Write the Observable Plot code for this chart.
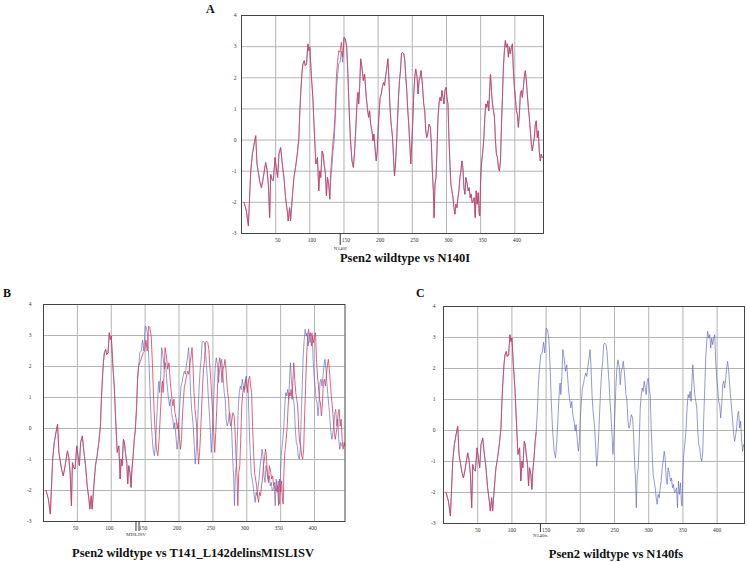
<!DOCTYPE html>
<html><head><meta charset="utf-8">
<script src="https://cdn.jsdelivr.net/npm/d3@7"></script>
<script src="https://cdn.jsdelivr.net/npm/@observablehq/plot@0.6"></script>
<style>
body{margin:0;background:#fff;}
#wrap{position:relative;width:747px;height:562px;overflow:hidden;font-family:"Liberation Serif",serif;}
#wrap svg{position:absolute;}
</style></head><body><div id="wrap"></div>
<script>
// ---- data (hydrophobicity profile, residue vs score) ----
const wtResidue = [3.8,7.2,10.1,13.5,15.9,18.4,20.8,22.7,24.7,26.6,29.1,31.5,33.4,35.4,37.3,39.3,41.2,42.7,44.6,46.6,49.0,50.9,52.9,54.8,57.3,59.7,62.1,64.5,67.0,68.4,70.4,71.8,74.3,76.7,79.1,81.6,84.0,85.4,86.9,88.4,89.8,91.8,93.2,95.2,97.1,98.6,100.0,102.4,104.4,106.3,108.8,111.2,113.1,114.6,116.0,118.0,119.5,120.9,122.9,124.3,125.8,127.7,129.2,130.6,132.6,134.0,135.5,137.4,138.9,140.3,142.3,144.2,146.2,148.1,150.1,152.0,154.0,155.9,157.4,159.3,161.7,163.7,165.6,167.6,169.5,170.5,171.5,172.9,174.4,176.3,178.3,180.2,181.2,182.6,184.1,186.0,187.5,189.0,190.9,192.4,193.8,195.8,197.2,198.7,200.1,201.6,203.0,204.5,206.0,207.9,209.4,210.8,212.8,214.2,215.7,217.1,218.6,219.6,221.0,222.5,223.9,225.4,226.9,228.3,229.8,231.2,232.7,234.1,235.6,237.5,239.0,240.5,241.9,243.4,244.8,246.3,247.7,249.2,250.7,252.1,253.6,255.0,257.0,258.4,259.9,261.4,262.8,264.3,265.7,266.7,268.2,269.6,271.1,272.5,274.5,276.4,277.9,279.3,280.8,281.8,283.2,284.7,286.1,287.6,289.1,290.5,292.0,293.4,294.9,296.3,297.8,299.3,300.7,302.2,303.6,305.1,306.5,308.0,309.5,310.9,312.4,313.8,315.3,316.8,318.2,319.7,321.1,322.6,324.0,325.5,327.0,328.4,330.4,331.8,333.3,334.7,336.2,337.6,339.1,340.6,342.0,343.5,344.9,346.4,347.9,348.8,349.8,350.8,351.7,353.2,354.7,356.1,357.6,359.0,360.5,361.9,363.4,364.4,365.8,367.3,368.8,370.2,371.7,373.1,374.6,376.0,377.5,379.0,380.4,381.9,383.3,384.8,386.2,387.7,389.2,390.6,392.1,393.5,395.0,396.5,397.9,399.4,400.8,402.3,403.7,405.2,406.7,408.1,409.6,411.0,412.5,413.9,415.4,416.9,418.3,419.8,421.2,422.7,424.2,425.6,427.1,428.5,430.0,431.4,432.9,434.4,435.8,437.3,438.7,440.2];
const wtHydro = [-2.0,-2.28,-2.76,-1.0,-0.45,-0.13,0.14,-0.77,-1.04,-1.31,-1.53,-1.26,-0.99,-0.72,-0.94,-1.42,-2.49,-1.10,-1.26,-1.31,-0.56,-0.88,-1.2,-0.45,-0.24,-0.77,-1.2,-1.85,-2.28,-2.6,-2.17,-2.6,-1.85,-1.2,-0.88,-0.45,0.08,0.94,1.59,2.12,2.44,2.55,2.39,2.44,3.09,2.87,2.98,2.02,1.37,0.41,-0.77,-0.56,-1.63,-0.99,-1.2,-0.35,-0.45,-0.77,-1.1,-1.79,-1.2,-1.42,-1.9,-1.3,-0.8,-0.35,-0.05,0.7,1.6,2.0,2.45,2.5,2.85,2.5,3.3,3.25,2.98,2.02,1.05,0.08,-0.67,-0.88,-0.35,0.51,1.37,1.53,1.16,1.69,2.61,2.34,1.91,2.12,1.80,1.37,1.05,0.73,0.94,0.51,0.30,-0.02,0.19,-0.35,-0.67,-0.35,0.41,0.94,1.37,1.48,1.69,1.85,1.75,2.02,2.34,2.61,2.02,1.16,0.62,0.41,0.08,-0.56,-1.15,-0.77,-0.13,0.62,1.37,1.91,2.23,2.77,2.82,2.77,2.55,2.02,1.59,0.94,0.51,-0.13,-0.77,-0.13,0.62,1.48,2.02,2.28,2.02,1.48,1.91,2.02,2.23,1.91,1.48,1.16,0.94,0.30,0.08,0.19,0.51,0.41,-0.13,-0.99,-1.63,-2.49,-1.42,-1.2,-0.35,0.73,1.16,1.37,1.26,1.59,1.37,1.16,1.59,1.69,1.37,1.16,0.08,-0.77,-1.42,-1.63,-1.85,-2.17,-2.38,-2.06,-2.17,-1.85,-1.63,-1.2,-0.99,-0.67,-0.88,-1.53,-1.74,-1.2,-1.42,-1.63,-1.53,-1.85,-1.74,-2.01,-1.95,-1.85,-2.49,-1.63,-2.06,-1.69,-2.38,-2.44,-1.42,-0.88,-0.67,-0.35,0.08,0.73,1.16,1.05,1.26,0.94,1.69,2.12,1.59,1.16,0.94,0.73,-0.02,-0.45,-0.56,-0.88,-0.99,-0.67,0.41,1.37,2.34,2.87,3.20,2.98,3.09,2.66,2.98,2.77,2.98,3.09,2.23,1.69,1.37,0.94,0.83,0.41,0.83,1.48,1.59,1.37,1.69,2.02,2.23,1.91,1.48,1.05,0.73,0.30,-0.13,-0.35,-0.13,0.08,0.51,0.62,0.08,0.30,-0.35,-0.67,-0.45,-0.56];

// N140I mutant: differs from wild type only in this stretch
const n140iResidue = [130.6,132.6,134.0,135.5,137.4,138.9,140.3,142.3,144.2,146.2,148.1];
const n140iHydro   = [-0.99,-0.45,-0.02,0.30,1.05,2.02,2.44,2.87,2.82,3.14,2.66];
// T141_L142delinsMISLISV: net 5-residue insertion after residue 141
const insertionSite = 141;
const insertionLength = 5;
// N140fs: truncated profile ends at this residue
const frameshiftEnd = 135.5;

const xTicks = [50,100,150,200,250,300,350,400];
const yTicks = [-3,-2,-1,0,1,2,3,4];
const panelLetters = ["A","B","C"];
const panelTitles = ["Psen2 wildtype vs N140I","Psen2 wildtype vs T141_L142delinsMISLISV","Psen2 wildtype vs N140fs"];
const markerLabels = ["N140I","MISLISV","N140fs"];
const markerPositions = [[144.5],[136.5,141],[141.7]];

// ---- build series ----
const wt = wtResidue.map((r,i)=>({r, v: wtHydro[i]}));
const mutA = wt.map(d => {
  const k = n140iResidue.indexOf(d.r);
  return k >= 0 ? {r: d.r, v: n140iHydro[k]} : d;
});
const mutB = wt.map(d => ({r: d.r < insertionSite ? d.r : d.r + insertionLength, v: d.v}));
const mutC = wt.filter(d => d.r <= frameshiftEnd);

const RED = "#d63c5c", BLUE = "#5a63b8";
const wrap = document.getElementById("wrap");

const panels = [
  {left:200, top:0, width:360, height:275, ml:41, mr:17, mt:15, mb:42, domain:[0,442], mut:mutA, yPad:5, dx:2, mLen:12},
  {left:0, top:280, width:360, height:262, ml:43, mr:15.5, mt:24, mb:21, domain:[0,445], mut:mutB, yPad:12, dx:-2, mLen:10},
  {left:400, top:280, width:347, height:262, ml:43, mr:3, mt:26, mb:19, domain:[0,440], mut:mutC, yPad:8, dx:0, mLen:9}
];

panels.forEach((p, i) => {
  const svg = Plot.plot({
    width: p.width, height: p.height,
    marginLeft: p.ml, marginRight: p.mr, marginTop: p.mt, marginBottom: p.mb,
    x: {domain: p.domain, axis: null, label: null},
    y: {domain: [-3, 4], axis: null, label: null},
    style: {fontFamily: "Liberation Serif, serif", background: "transparent", overflow: "visible"},
    marks: [
      Plot.gridX(xTicks, {stroke: "#b4b4b4", strokeOpacity: 1}),
      Plot.gridY(yTicks, {stroke: "#b4b4b4", strokeOpacity: 1}),
      Plot.line(wt, {x: "r", y: "v", stroke: BLUE, strokeWidth: 0.65}),
      Plot.line(p.mut, {x: "r", y: "v", stroke: RED, strokeWidth: 0.8}),
      Plot.frame({stroke: "#444", strokeWidth: 1}),
      Plot.axisX(xTicks, {label: null, tickSize: 0, tickPadding: 5, fontSize: 5.5, fill: "#333", tickFormat: d => String(d), dx: p.dx}),
      Plot.axisY(yTicks, {label: null, tickSize: 0, tickPadding: p.yPad, fontSize: 5.5, fill: "#333", tickFormat: d => String(d)}),
      Plot.axisX(markerPositions[i], {label: null, tickSize: p.mLen, tickPadding: 1, fontSize: 5, fill: "#333", stroke: "#333",
        tickFormat: (d, k) => k === 0 ? markerLabels[i] : ""})
    ]
  });
  svg.style.left = p.left + "px";
  svg.style.top = p.top + "px";
  wrap.appendChild(svg);
});

// ---- titles and panel letters ----
const overlay = d3.select(wrap).append("svg")
  .attr("width", 747).attr("height", 562)
  .style("left", "0px").style("top", "0px").style("pointer-events", "none");
const titlePos = [[405, 261.5], [193, 556.7], [616, 557.5]];
const letterPos = [[206, 12.5], [3, 296.5], [416, 297]];
overlay.selectAll("text.title").data(panelTitles).join("text")
  .attr("class", "title")
  .attr("x", (d, i) => titlePos[i][0]).attr("y", (d, i) => titlePos[i][1])
  .attr("text-anchor", "middle")
  .attr("font-family", "Liberation Serif, serif").attr("font-weight", "bold").attr("font-size", 12.5)
  .attr("fill", "#111").text(d => d);
overlay.selectAll("text.letter").data(panelLetters).join("text")
  .attr("class", "letter")
  .attr("x", (d, i) => letterPos[i][0]).attr("y", (d, i) => letterPos[i][1])
  .attr("font-family", "Liberation Serif, serif").attr("font-weight", "bold").attr("font-size", 12)
  .attr("fill", "#111").text(d => d);
</script></body></html>
